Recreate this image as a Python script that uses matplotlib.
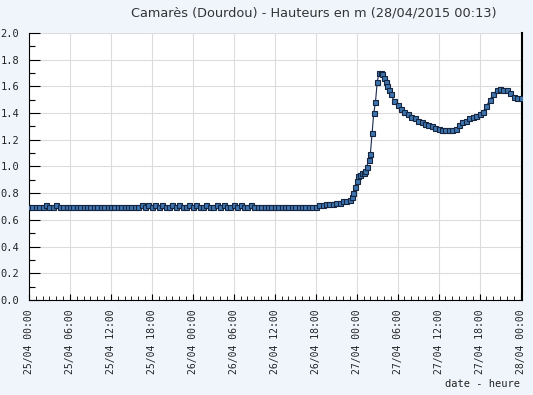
import pandas as pd
import matplotlib
matplotlib.use("Agg")
import matplotlib.pyplot as plt
import matplotlib.dates as mdates
from matplotlib.ticker import MultipleLocator

# relevés toutes les 30 min, puis 15 min pendant la crue, puis 30 min
t_a = pd.date_range("2015-04-25 00:00", "2015-04-26 23:00", freq="30min")
t_b = pd.date_range("2015-04-26 23:15", "2015-04-27 05:00", freq="15min")
t_c = pd.date_range("2015-04-27 05:30", "2015-04-28 00:00", freq="30min")

h_a = [0.70, 0.70, 0.70, 0.70, 0.70, 0.71, 0.70, 0.70, 0.71, 0.70, 0.70, 0.70,
       0.70, 0.70, 0.70, 0.70, 0.70, 0.70, 0.70, 0.70, 0.70, 0.70, 0.70, 0.70,
       0.70, 0.70, 0.70, 0.70, 0.70, 0.70, 0.70, 0.70, 0.70, 0.71, 0.70, 0.71,
       0.70, 0.71, 0.70, 0.71, 0.70, 0.70, 0.71, 0.70, 0.71, 0.70, 0.70, 0.71,
       0.70, 0.71, 0.70, 0.70, 0.71, 0.70, 0.70, 0.71, 0.70, 0.71, 0.70, 0.70,
       0.71, 0.70, 0.71, 0.70, 0.70, 0.71, 0.70, 0.70, 0.70, 0.70, 0.70, 0.70,
       0.70, 0.70, 0.70, 0.70, 0.70, 0.70, 0.70, 0.70, 0.70, 0.70, 0.70, 0.70,
       0.70, 0.71, 0.71, 0.72, 0.72, 0.72, 0.73, 0.73, 0.74, 0.74, 0.75]
h_b = [0.77, 0.80, 0.85, 0.89, 0.93, 0.94, 0.95, 0.95, 0.97, 1.00, 1.05, 1.09,
       1.25, 1.40, 1.48, 1.63, 1.70, 1.70, 1.69, 1.66, 1.63, 1.60, 1.57, 1.54]
h_c = [1.49, 1.46, 1.43, 1.41, 1.39, 1.37, 1.36, 1.34, 1.33, 1.32, 1.31, 1.30,
       1.29, 1.28, 1.27, 1.27, 1.27, 1.27, 1.28, 1.31, 1.33, 1.34, 1.36, 1.37,
       1.38, 1.39, 1.41, 1.45, 1.50, 1.54, 1.57, 1.58, 1.57, 1.57, 1.55, 1.52,
       1.51, 1.51]

temps = t_a.append(t_b).append(t_c)
hauteurs = h_a + h_b + h_c

titre = "Camarès (Dourdou) - Hauteurs en m (28/04/2015 00:13)"

fig = plt.figure(figsize=(5.33, 3.95), dpi=100)
fig.patch.set_facecolor("#f0f5fc")
ax = fig.add_axes([29 / 533, 1 - 300 / 395, 493 / 533, 267 / 395])
ax.set_facecolor("white")

ax.plot(temps, hauteurs, color="#1a2850", lw=0.8, marker="s", ms=3.6,
        mfc="#3d74ad", mec="#152540", mew=0.8, zorder=3)

ax.set_xlim(pd.Timestamp("2015-04-25 00:00"), pd.Timestamp("2015-04-28 00:13"))
ax.set_ylim(0, 2.0)

ax.xaxis.set_major_locator(mdates.HourLocator(byhour=[0, 6, 12, 18]))
ax.xaxis.set_minor_locator(mdates.HourLocator())
ax.xaxis.set_major_formatter(mdates.DateFormatter("%d/%m %H:%M"))
ax.yaxis.set_major_locator(MultipleLocator(0.2))
ax.yaxis.set_minor_locator(MultipleLocator(0.1))
ax.yaxis.set_major_formatter(plt.FuncFormatter(lambda v, p: "%.1f" % v))

ax.grid(True, which="major", color="#dcdcdc", lw=0.8)
ax.set_axisbelow(True)

ax.tick_params(axis="x", which="major", direction="in", length=4, width=0.8,
               pad=7, labelsize=7, labelrotation=90, colors="black")
ax.tick_params(axis="x", which="minor", direction="in", length=3, width=0.6)
ax.tick_params(axis="y", which="major", direction="in", length=8, width=0.8,
               pad=7, labelsize=7.5)
ax.tick_params(axis="y", which="minor", direction="in", length=4, width=0.8)
for lab in ax.get_xticklabels() + ax.get_yticklabels():
    lab.set_family("DejaVu Sans Mono")
    lab.set_color("#222222")

ax.spines["top"].set_visible(False)
ax.spines["left"].set_color("black")
ax.spines["bottom"].set_color("black")
ax.spines["right"].set_color("black")
ax.spines["right"].set_linewidth(1.5)

fig.text(314 / 533, 1 - 13 / 395, titre, ha="center", va="center",
         fontsize=9.3, color="#333333")
fig.text(520 / 533, 1 - 384 / 395, "date - heure", ha="right", va="center",
         fontsize=7.5, family="DejaVu Sans Mono", color="#222222")

fig.savefig("out.png", dpi=100, facecolor=fig.get_facecolor())
